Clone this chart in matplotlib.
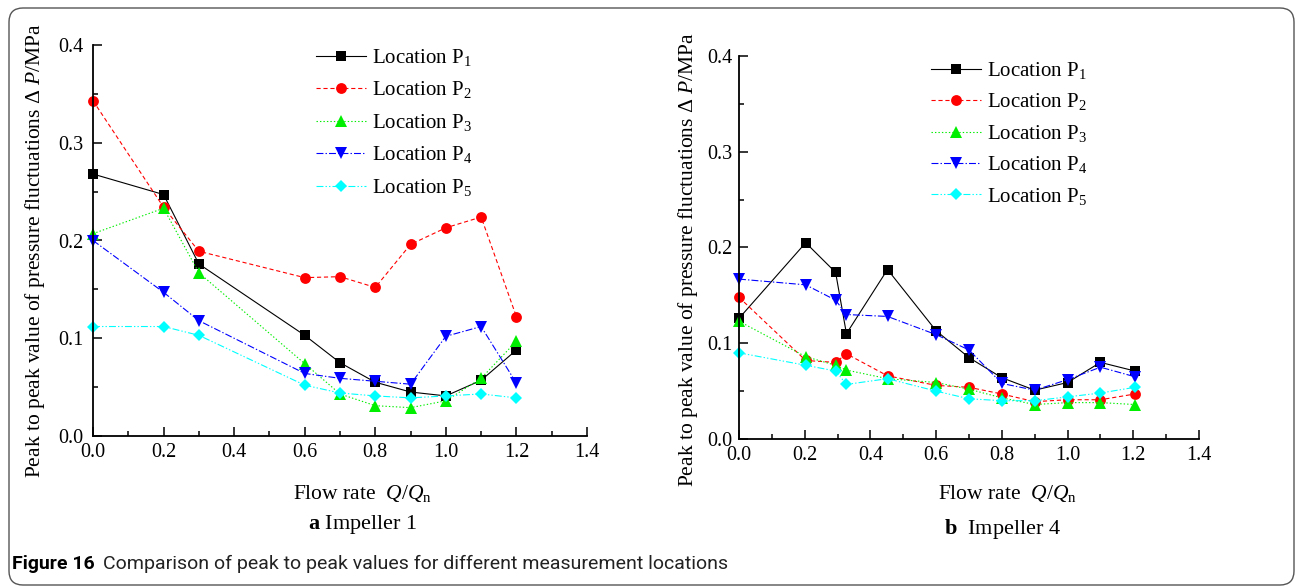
import numpy as np
import matplotlib.pyplot as plt
from matplotlib.patches import FancyBboxPatch
from matplotlib.transforms import IdentityTransform
from matplotlib.ticker import MultipleLocator

plt.rcParams['font.family'] = 'Liberation Serif'
plt.rcParams['mathtext.fontset'] = 'custom'
plt.rcParams['mathtext.rm'] = 'Liberation Serif'
plt.rcParams['mathtext.it'] = 'Liberation Serif:italic'
plt.rcParams['mathtext.bf'] = 'Liberation Serif:bold'
plt.rcParams['lines.scale_dashes'] = False

# Impeller 1
q1 = [0.0, 0.2, 0.3, 0.6, 0.7, 0.8, 0.9, 1.0, 1.1, 1.2]
imp1_p1 = [0.268, 0.247, 0.176, 0.103, 0.075, 0.055, 0.045, 0.041, 0.057, 0.088]
imp1_p2 = [0.343, 0.234, 0.189, 0.162, 0.163, 0.152, 0.196, 0.213, 0.224, 0.122]
imp1_p3 = [0.207, 0.233, 0.167, 0.074, 0.043, 0.031, 0.029, 0.036, 0.059, 0.097]
imp1_p4 = [0.200, 0.147, 0.118, 0.064, 0.059, 0.056, 0.053, 0.102, 0.112, 0.054]
imp1_p5 = [0.112, 0.112, 0.103, 0.052, 0.044, 0.041, 0.039, 0.041, 0.043, 0.039]

# Impeller 4
q4 = [0.0, 0.203, 0.294, 0.327, 0.452, 0.6, 0.7, 0.8, 0.9, 1.0, 1.1, 1.205]
imp4_p1 = [0.126, 0.205, 0.174, 0.110, 0.177, 0.113, 0.085, 0.064, 0.051, 0.059, 0.080, 0.071]
imp4_p2 = [0.148, 0.082, 0.080, 0.089, 0.066, 0.056, 0.054, 0.047, 0.039, 0.041, 0.041, 0.047]
imp4_p3 = [0.123, 0.086, 0.077, 0.072, 0.063, 0.059, 0.052, 0.043, 0.036, 0.038, 0.038, 0.036]
imp4_p4 = [0.167, 0.161, 0.145, 0.130, 0.128, 0.109, 0.093, 0.058, 0.051, 0.062, 0.075, 0.065]
imp4_p5 = [0.090, 0.077, 0.071, 0.057, 0.063, 0.050, 0.042, 0.040, 0.040, 0.044, 0.048, 0.054]

labels = ['Location P$_\\mathrm{%d}$' % i for i in range(1, 6)]
colori = ['black', '#ff0000', '#00ee00', '#0000ff', '#00ffff']
marker = ['s', 'o', '^', 'v', 'D']
msize = [7, 7.8, 9, 9, 6.3]
dashes = [(None), (3, 2), (1, 1.5), (5, 1.5, 1, 1.5), (5, 1.5, 1, 1.5, 1, 1.5)]

W, H = 1295, 586
fig = plt.figure(figsize=(W / 100, H / 100), dpi=100)

def px_axes(x0, x1, ytop, ybot):
    return fig.add_axes([x0 / W, (H - ybot) / H, (x1 - x0) / W, (ybot - ytop) / H])

def disegna(ax, q, serie):
    for i, y in enumerate(serie):
        line, = ax.plot(q, y, color=colori[i], marker=marker[i], markersize=msize[i],
                        markeredgewidth=0, lw=0.8, label=labels[i], clip_on=False)
        if dashes[i] is not None:
            line.set_dashes(dashes[i])
    ax.set_xlim(0, 1.4)
    ax.set_ylim(0, 0.4)
    ax.xaxis.set_major_locator(MultipleLocator(0.2))
    ax.xaxis.set_minor_locator(MultipleLocator(0.1))
    ax.yaxis.set_major_locator(MultipleLocator(0.1))
    ax.yaxis.set_minor_locator(MultipleLocator(0.05))
    ax.xaxis.set_major_formatter(plt.FormatStrFormatter('%.1f'))
    ax.yaxis.set_major_formatter(plt.FormatStrFormatter('%.1f'))
    ax.spines['top'].set_visible(False)
    ax.spines['right'].set_visible(False)
    ax.spines['left'].set_linewidth(1.3)
    ax.spines['bottom'].set_linewidth(1.3)
    ax.tick_params(which='both', direction='in', width=1.1, labelsize=14.5)
    ax.tick_params(which='major', length=6.5)
    ax.tick_params(which='minor', length=3.5)
    ax.tick_params(axis='x', pad=5)

ax1 = px_axes(93, 587, 45, 436)
disegna(ax1, q1, [imp1_p1, imp1_p2, imp1_p3, imp1_p4, imp1_p5])
ax1.tick_params(axis='y', pad=7)

ax2 = px_axes(739, 1199, 56, 439)
disegna(ax2, q4, [imp4_p1, imp4_p2, imp4_p3, imp4_p4, imp4_p5])
ax2.tick_params(axis='y', pad=5)

for ax, x0, y0, sp in [(ax1, 316, 47, 0.55), (ax2, 931, 60, 0.5)]:
    ax.legend(loc='upper left', bbox_to_anchor=(x0 / W, (H - y0) / H),
              bbox_transform=fig.transFigure, frameon=False, fontsize=15,
              handlelength=2.4, handletextpad=0.3, labelspacing=sp,
              borderpad=0, borderaxespad=0)

ylab = 'Peak to peak value of pressure fluctuations \u0394 $P$/MPa'
fig.text(35 / W, 1 - 251 / H, ylab, rotation=90, ha='center', va='center', fontsize=15.5)
fig.text(688 / W, 1 - 260 / H, ylab, rotation=90, ha='center', va='center', fontsize=15.5)

xlab = 'Flow rate  $Q$/$Q_\\mathrm{n}$'
fig.text(362 / W, 1 - 493 / H, xlab, ha='center', va='center', fontsize=15.5)
fig.text(1007 / W, 1 - 493 / H, xlab, ha='center', va='center', fontsize=15.5)
fig.text(363 / W, 1 - 525 / H, '$\\mathbf{a}$ Impeller 1', ha='center', va='center', fontsize=16)
fig.text(1003 / W, 1 - 529 / H, '$\\mathbf{b}$  Impeller 4', ha='center', va='center', fontsize=16)

# didascalia
t1 = fig.text(12 / W, 1 - 564 / H, 'Figure 16', ha='left', va='center',
              fontsize=14, fontweight='bold', family='Roboto')
r = fig.canvas.get_renderer()
bb = t1.get_window_extent(r)
fig.text((bb.x1 + 8) / W, 1 - 564 / H,
         'Comparison of peak to peak values for different measurement locations',
         ha='left', va='center', fontsize=14, family='Roboto', color='#222222')

bordo = FancyBboxPatch((9, 1), 1285, 577, boxstyle='round,pad=0,rounding_size=14',
                       transform=IdentityTransform(), fill=False, edgecolor='#555555', lw=1)
fig.patches.append(bordo)

plt.savefig('out.png', dpi=100)
